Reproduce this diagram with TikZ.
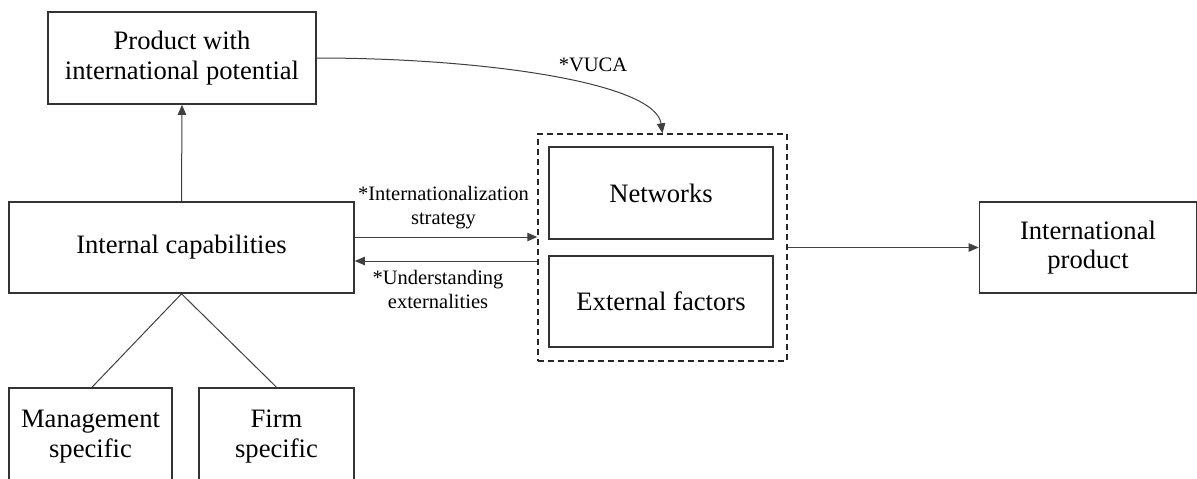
\documentclass[tikz,border=0pt]{standalone}
\usepackage{fontspec}
\setmainfont{Liberation Serif}
\usetikzlibrary{arrows.meta,calc}
\begin{document}
\begin{tikzpicture}[x=0.5pt,y=-0.5pt,
  box/.style={draw=black!80,line width=0.8pt,align=center,
    font=\fontsize{13.3}{14.8}\selectfont,inner sep=0pt},
  lbl/.style={align=center,font=\fontsize{10.25}{12}\selectfont,inner sep=0pt},
  arr/.style={draw=black!75,line width=0.5pt,-{Triangle[length=5pt,width=4.2pt]}},
  conn/.style={draw=black!75,line width=0.5pt},
  dashbox/.style={draw=black!85,line width=0.7pt,dash pattern=on 3pt off 2pt,inner sep=0pt}]
\clip (0,0) rectangle (1197,478);
\fill[white] (0,0) rectangle (1197,478);
% nodes
\node[box,minimum width=134pt,minimum height=46pt] (prod) at (182,58) {Product with\\international potential};
\node[box,minimum width=172.5pt,minimum height=45.5pt] (intcap) at (181.5,247.5) {Internal capabilities};
\node[box,minimum width=81.5pt,minimum height=48.5pt] (mgmt) at (90.5,436.5) {Management\\specific};
\node[box,minimum width=77.5pt,minimum height=48.5pt] (firm) at (276.5,436.5) {Firm\\specific};
\node[dashbox,minimum width=124.5pt,minimum height=113.5pt] (dash) at (662.5,247.5) {};
\node[box,minimum width=112pt,minimum height=46pt] (net) at (661,193) {Networks};
\node[box,minimum width=112pt,minimum height=45.5pt] (ext) at (661,301.5) {External factors};
\node[box,minimum width=108.5pt,minimum height=45.5pt] (intprod) at (1088,247.5) {International\\product};
% labels
\node[lbl] (lstrat) at (443.5,208) {*Internationalization\\strategy};
\node[lbl] (lund) at (438,289) {*Understanding\\externalities};
\node[lbl] (lvuca) at (593,65) {*VUCA};
% connectors
\draw[arr] (intcap.north) -- (prod.south);
\draw[conn] (intcap.south) -- ([xshift=0.75pt]mgmt.north);
\draw[conn] (intcap.south) -- (firm.north);
\draw[arr] ([yshift=5.25pt]intcap.east) -- ([yshift=5.25pt]intcap.east -| dash.west);
\draw[arr] ([yshift=-6.75pt]dash.west) -- ([yshift=-6.75pt]dash.west -| intcap.east);
\draw[arr] (dash.east) -- (intprod.west);
\draw[arr] (prod.east) .. controls (480,58) and (655,82) .. (dash.north);
\end{tikzpicture}
\end{document}
